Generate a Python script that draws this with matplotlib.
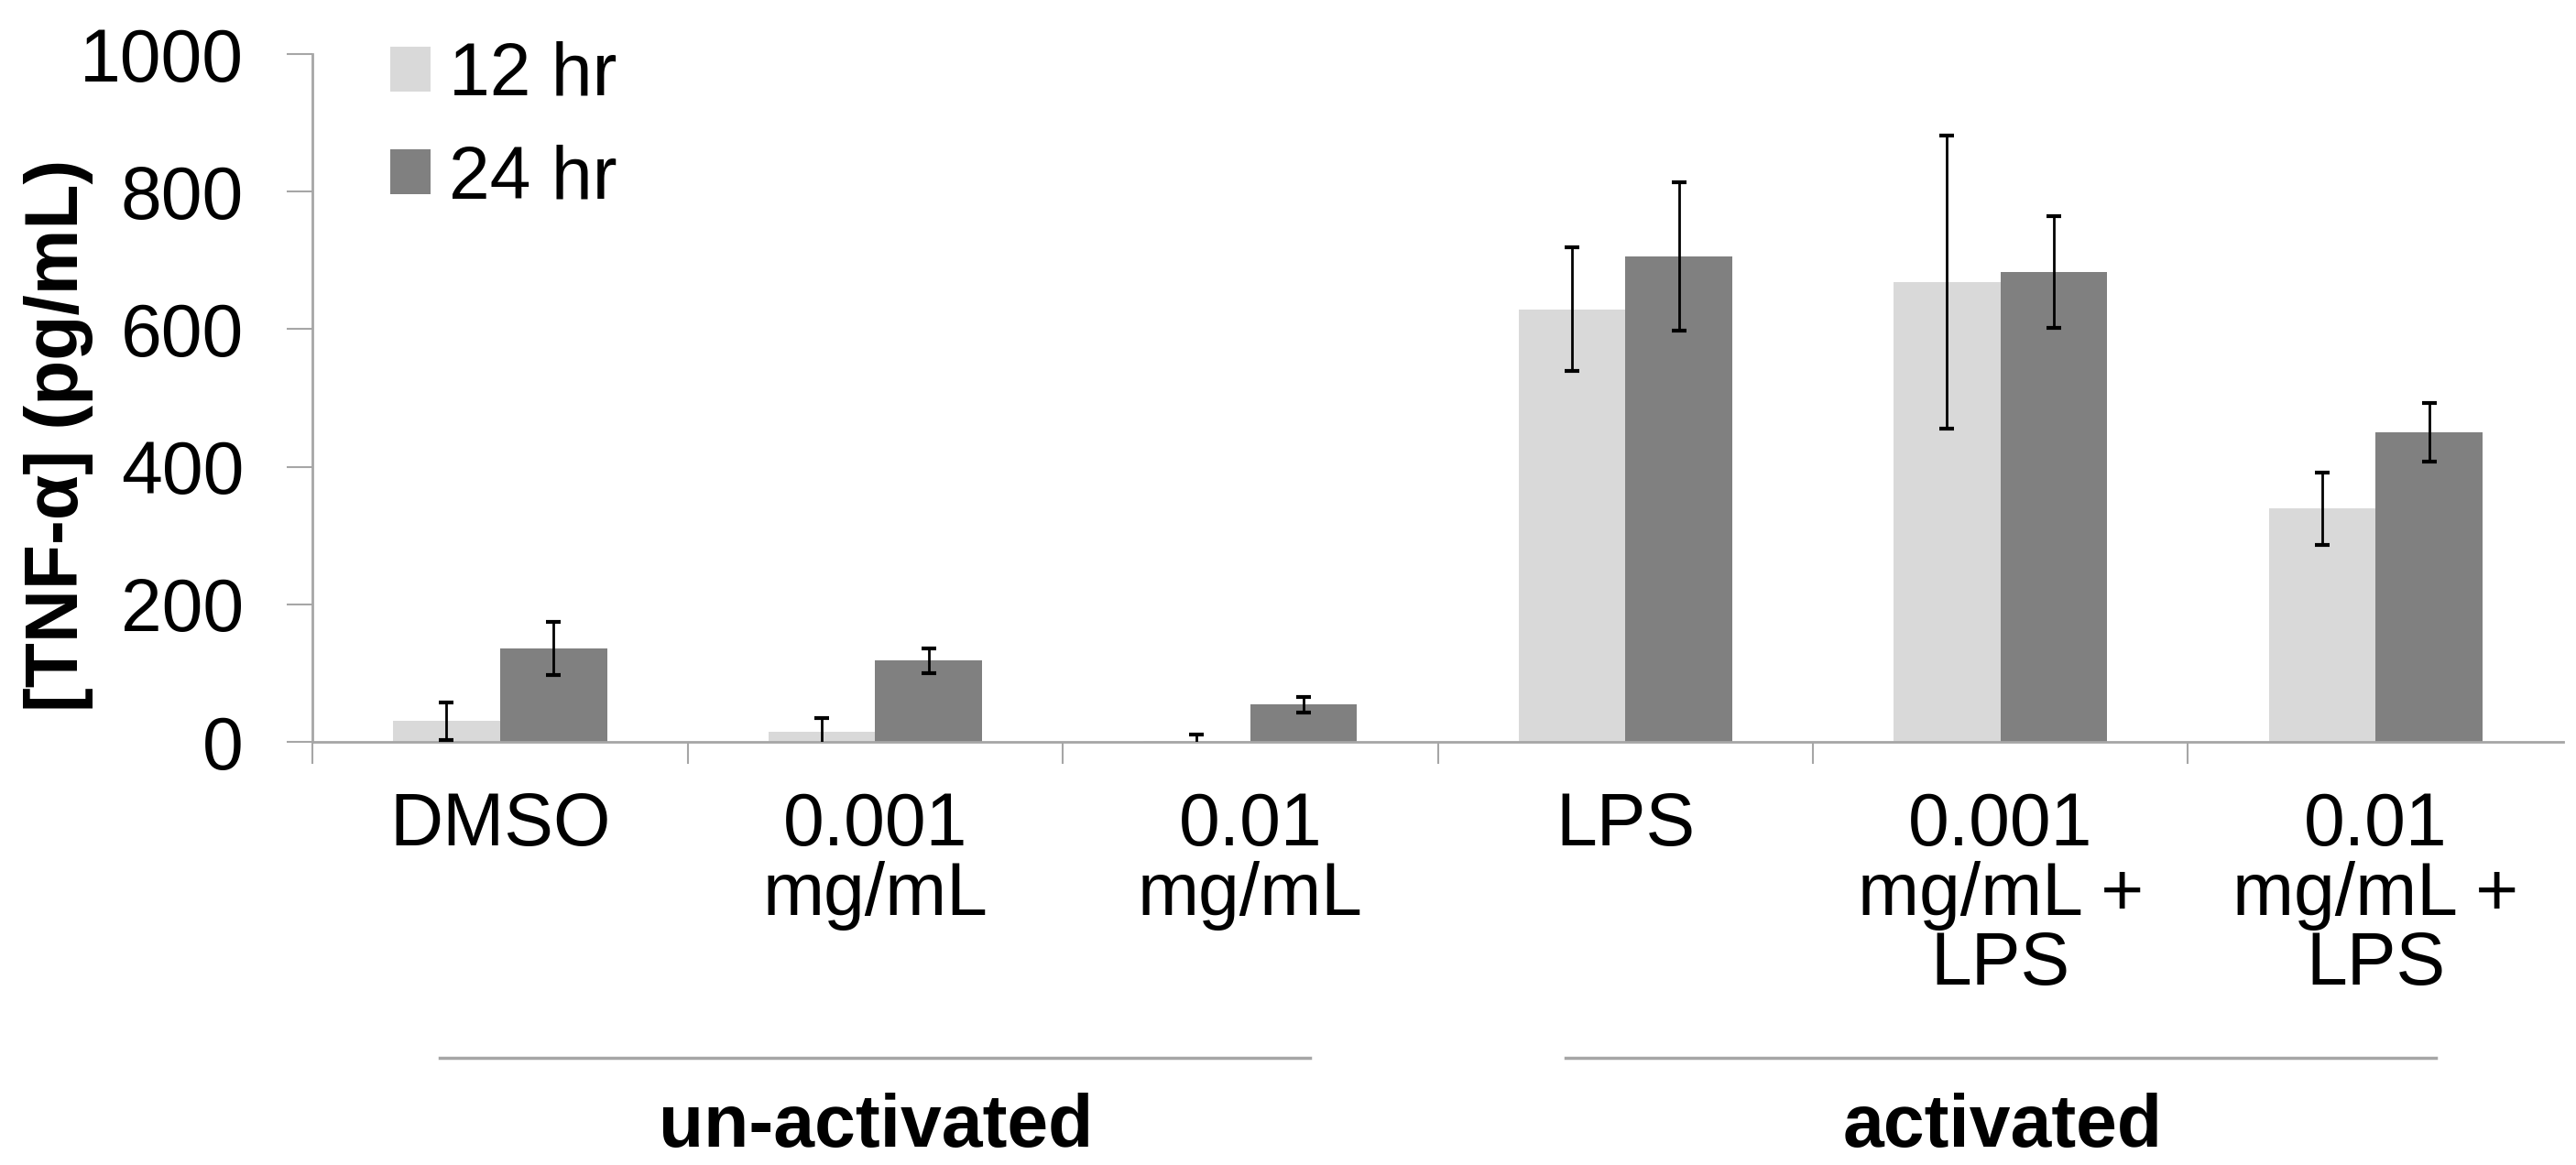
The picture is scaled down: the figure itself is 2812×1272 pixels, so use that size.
import matplotlib
matplotlib.use("Agg")
import matplotlib.pyplot as plt
import numpy as np

plt.rcParams['font.family'] = ['Liberation Sans', 'DejaVu Sans']

categories = ['DMSO', '0.001\nmg/mL', '0.01\nmg/mL', 'LPS',
              '0.001\nmg/mL +\nLPS', '0.01\nmg/mL +\nLPS']
vals_12 = [30, 14, 1, 629, 669, 339]
err_12 = [27, 21, 9, 90, 213, 53]
vals_24 = [136, 118, 54, 706, 683, 450]
err_24 = [39, 18, 11, 108, 81, 43]
groups = ['un-activated', 'activated']
group_centers = [1.0, 4.0]
yticks = [0, 200, 400, 600, 800, 1000]

fs = 58
axis_grey = '#A6A6A6'

fig = plt.figure(figsize=(28.12, 12.72), dpi=100)
ax = fig.add_axes([0.1213, 0.3632, 0.8737, 0.5904])

x = np.arange(len(categories))
w = 0.285
ax.bar(x - w / 2, vals_12, w, color='#D9D9D9', label='12 hr', zorder=2)
ax.bar(x + w / 2, vals_24, w, color='#808080', label='24 hr', zorder=2)
ax.errorbar(x - w / 2, vals_12, yerr=err_12, fmt='none', ecolor='black',
            elinewidth=2, capsize=6, capthick=3, zorder=3)
ax.errorbar(x + w / 2, vals_24, yerr=err_24, fmt='none', ecolor='black',
            elinewidth=2, capsize=6, capthick=3, zorder=3)

ax.set_xlim(-0.5, len(categories) - 0.5)
ax.set_ylim(0, 1000)
ax.set_yticks(yticks)
ax.set_yticklabels([str(t) for t in yticks], fontsize=fs)
ax.set_xticks(np.arange(-0.5, len(categories) - 1, 1.0))
ax.set_xticklabels([])

for s in ['top', 'right']:
    ax.spines[s].set_visible(False)
for s in ['left', 'bottom']:
    ax.spines[s].set_color(axis_grey)
    ax.spines[s].set_linewidth(2)
ax.tick_params(axis='y', direction='out', length=20, width=1.5, color=axis_grey, pad=34)
ax.tick_params(axis='x', direction='out', length=17, width=1.5, color=axis_grey)

# category labels under the axis
for xi, lab in zip(x, categories):
    ax.text(xi, -0.072, lab, transform=ax.get_xaxis_transform(), ha='center', va='top',
            fontsize=fs, linespacing=1.0)

# group brackets and names
for gc, gname in zip(group_centers, groups):
    ax.plot([gc - 1.16, gc + 1.16], [-0.46, -0.46], transform=ax.get_xaxis_transform(),
            color=axis_grey, lw=2.5, clip_on=False)
    fig.text((341 + (gc + 0.5) * 410) / 2812, 0.0157, gname, ha='center', va='baseline',
             fontsize=fs, fontweight='bold')

fig.text(64 / 2812, 1 - 475 / 1272, '[TNF-α] (pg/mL)', rotation=90, ha='center', va='center',
         fontsize=fs, fontweight='bold')

ax.legend(loc='upper left', bbox_to_anchor=(426 / 2812, 1 - 45 / 1272),
          bbox_transform=fig.transFigure, frameon=False, fontsize=fs,
          handlelength=0.55, handleheight=0.55, handletextpad=0.25,
          labelspacing=0.45, borderpad=0, borderaxespad=0)

fig.savefig('out.png', dpi=100)
